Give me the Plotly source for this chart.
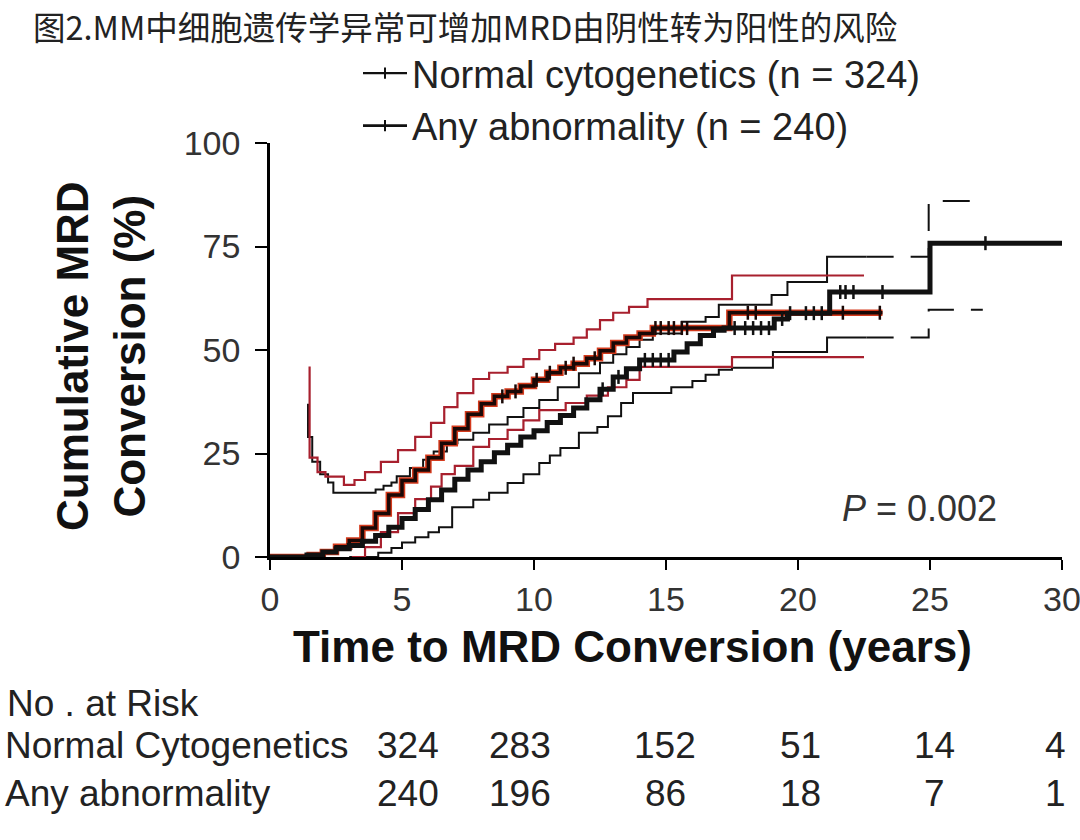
import numpy as np
import plotly.graph_objects as go

# ---------------- data ----------------
title_text = "图2.MM中细胞遗传学异常可增加MRD由阴性转为阳性的风险"
series_names = ["Normal cytogenetics (n = 324)", "Any abnormality (n = 240)"]

# Normal cytogenetics: cumulative incidence (%)
normal_t = [0, 1.4, 2.0, 2.5, 3.0, 3.5, 4.0, 4.5, 5.0, 5.5, 6.0, 6.5, 7.0, 7.5, 8.0, 8.5, 9.0, 9.5,
            10.0, 10.5, 11.0, 11.5, 12.0, 12.5, 13.0, 13.5, 14.0, 15.3, 15.8, 16.3, 16.8, 17.2,
            19.1, 19.6, 21.2, 25.0, 30.0]
normal_v = [0, 0.5, 1.2, 2.0, 2.8, 3.8, 5.2, 7.2, 9.3, 11.5, 13.8, 16.2, 18.8, 21.0, 23.0, 25.2, 27.0, 29.0,
            30.5, 32.5, 34.2, 36.0, 38.0, 40.5, 43.5, 45.5, 47.6, 49.5, 51.5, 53.5, 54.8, 55.3,
            57.5, 58.9, 64.0, 75.8, 75.8]
normal_ci_hi_t = [1.44, 1.44, 1.6, 1.9, 2.2, 2.4, 4.0, 4.3, 4.6, 4.8, 5.3, 5.8, 6.2, 6.7, 7.1, 7.7, 8.3,
                  9.0, 9.6, 10.2, 10.9, 11.7, 12.5, 13.0, 13.5, 14.0, 14.5, 15.6, 16.5, 17.0, 19.0,
                  19.6, 21.1, 22.6]
normal_ci_hi_v = [37, 29, 23, 20, 18, 15.5, 16.3, 17.2, 18.0, 19.5, 21.5, 23.5, 25.5, 27.5, 28.3, 30.0, 32.0,
                  33.8, 36.0, 37.9, 41.0, 44.4, 46.9, 49.0, 50.7, 52.5, 54.0, 56.8, 58.0, 60.9, 63.3,
                  66.4, 72.5, 72.5]
normal_ci_hi_dash_t = [22.6, 24.95, 27.0]
normal_ci_hi_dash_v = [72.5, 86.0, 86.0]
normal_ci_lo_t = [3.0, 4.1, 4.6, 5.0, 5.5, 6.0, 6.4, 6.9, 7.7, 8.3, 9.0, 9.6, 10.2, 10.6, 11.0, 11.7,
                  12.4, 12.8, 13.3, 13.75, 15.2, 16.0, 16.5, 17.0, 17.5, 19.05, 21.1, 22.6]
normal_ci_lo_v = [0, 1.0, 2.2, 3.5, 4.8, 6.0, 7.2, 12.0, 13.8, 15.5, 17.9, 20.0, 22.7, 24.5, 26.3, 30.0,
                  31.4, 34.0, 37.2, 39.6, 41.0, 42.5, 44.0, 45.2, 45.7, 49.5, 53.0, 53.0]
normal_ci_lo_dash_t = [22.6, 24.95, 27.0]
normal_ci_lo_dash_v = [53.0, 59.7, 59.7]
normal_censor = [12.6, 13.2, 14.2, 14.5, 14.8, 15.1, 17.6, 18.0, 18.3, 18.6, 18.9, 19.4, 19.7, 20.3,
                 20.6, 20.9, 21.6, 21.8, 22.1, 23.2, 27.1]

# Any abnormality: cumulative incidence (%)
any_t = [0, 1.5, 2.0, 2.5, 3.0, 3.5, 4.0, 4.5, 5.0, 5.5, 6.0, 6.5, 7.0, 7.5, 8.0, 8.5, 9.0, 9.5,
         10.0, 10.5, 11.0, 11.5, 12.0, 12.5, 13.0, 13.5, 14.0, 14.5, 17.4, 23.2]
any_v = [0, 0.5, 1.2, 2.5, 4.0, 7.0, 10.5, 15.0, 18.5, 21.0, 24.0, 27.5, 31.0, 34.5, 37.0, 38.8, 40.0, 41.3,
         42.8, 44.5, 45.7, 46.7, 48.0, 49.8, 51.7, 53.0, 54.0, 55.3, 59.0, 59.0]
any_ci_hi_t = [1.5, 1.5, 1.8, 2.1, 2.8, 3.2, 3.6, 4.2, 4.85, 5.5, 6.1, 6.6, 7.1, 7.7, 8.3, 9.0, 9.6,
               10.2, 10.8, 11.5, 12.0, 12.5, 13.0, 13.6, 14.3, 17.5, 22.5]
any_ci_hi_v = [46, 24, 20.5, 19.4, 17.4, 18.6, 20.5, 23.0, 25.8, 29.0, 32.4, 36.2, 39.6, 43.0, 44.5, 45.9, 47.8,
               50.0, 51.5, 53.0, 55.0, 57.2, 59.0, 60.4, 62.3, 68.0, 68.0]
any_ci_lo_t = [3.1, 3.6, 4.2, 4.85, 5.5, 6.1, 6.5, 7.0, 7.7, 8.3, 9.0, 9.6, 10.2, 11.2, 12.0, 12.8,
               13.5, 14.0, 17.5, 22.5]
any_ci_lo_v = [0, 2.4, 6.0, 10.6, 14.0, 17.0, 20.0, 22.0, 26.6, 28.5, 30.7, 33.0, 35.5, 37.2, 39.0, 41.0,
               42.8, 45.9, 48.3, 48.3]
any_censor = [8.8, 9.3, 10.1, 10.6, 11.2, 11.5, 12.3, 14.6, 14.8, 15.1, 15.3, 15.6, 15.8, 18.1, 18.4,
              21.7, 23.1]

x_ticks = [0, 5, 10, 15, 20, 25, 30]
y_ticks = [0, 25, 50, 75, 100]

risk_header = "No . at Risk"
risk_labels = ["Normal Cytogenetics", "Any abnormality"]
risk_normal = [324, 283, 152, 51, 14, 4]
risk_any = [240, 196, 86, 18, 7, 1]
p_text = "<i>P</i> = 0.002"

# ---------------- styles / layout ----------------
W, H = 1080, 840
L, R, T, B = 270, 18, 143, 283
PW, PH = W - L - R, H - T - B


def px_x(p):
    return (p - L) / PW


def px_y(p):
    return (H - B - p) / PH


FONT = "Liberation Sans, Arial, sans-serif"
CJK = "Noto Sans CJK SC, sans-serif"


def step_at(ts, vs, q):
    ts = np.asarray(ts)
    vs = np.asarray(vs)
    idx = np.searchsorted(ts, np.asarray(q), side="right") - 1
    return vs[np.clip(idx, 0, len(vs) - 1)]


fig = go.Figure()

BLACK = "#111111"
RED_CI = "#a8202e"
RED = "#d43a1c"

# Normal cytogenetics CIs (black)
for tt, vv, dash in [(normal_ci_hi_t, normal_ci_hi_v, "solid"), (normal_ci_lo_t, normal_ci_lo_v, "solid"),
                     (normal_ci_hi_dash_t, normal_ci_hi_dash_v, "27px,17px"),
                     (normal_ci_lo_dash_t, normal_ci_lo_dash_v, "27px,17px")]:
    fig.add_trace(go.Scatter(x=tt, y=vv, mode="lines", line=dict(color=BLACK, width=2, shape="hv", dash=dash),
                             showlegend=False, hoverinfo="skip"))

# Any abnormality CIs (red)
for tt, vv in [(any_ci_hi_t, any_ci_hi_v), (any_ci_lo_t, any_ci_lo_v)]:
    fig.add_trace(go.Scatter(x=tt, y=vv, mode="lines", line=dict(color=RED_CI, width=2.2, shape="hv"),
                             showlegend=False, hoverinfo="skip"))

# Any abnormality main curve: red under, dark core on top
fig.add_trace(go.Scatter(x=any_t, y=any_v, mode="lines", line=dict(color=RED, width=6.5, shape="hv"),
                         showlegend=False, hoverinfo="skip"))
fig.add_trace(go.Scatter(x=any_t, y=any_v, mode="lines", line=dict(color="#1a0806", width=3.5, shape="hv"),
                         showlegend=False, hoverinfo="skip"))
# Normal main curve
fig.add_trace(go.Scatter(x=normal_t, y=normal_v, mode="lines", line=dict(color=BLACK, width=5, shape="hv"),
                         showlegend=False, hoverinfo="skip"))

# censor ticks
fig.add_trace(go.Scatter(x=any_censor, y=step_at(any_t, any_v, any_censor), mode="markers",
                         marker=dict(symbol="line-ns", size=10, line=dict(color="#1a0806", width=2.5)),
                         showlegend=False, hoverinfo="skip"))
fig.add_trace(go.Scatter(x=normal_censor, y=step_at(normal_t, normal_v, normal_censor), mode="markers",
                         marker=dict(symbol="line-ns", size=10, line=dict(color=BLACK, width=2.5)),
                         showlegend=False, hoverinfo="skip"))

# legend entries
fig.add_trace(go.Scatter(x=[None], y=[None], mode="lines+markers", name=series_names[0],
                         line=dict(color=BLACK, width=2.2),
                         marker=dict(symbol="line-ns", size=8, line=dict(color=BLACK, width=2))))
fig.add_trace(go.Scatter(x=[None], y=[None], mode="lines+markers", name=series_names[1],
                         line=dict(color=BLACK, width=2.8),
                         marker=dict(symbol="line-ns", size=8, line=dict(color=BLACK, width=2))))

axis_common = dict(showline=True, linecolor="black", linewidth=2.5, ticks="outside", tickwidth=2,
                   tickcolor="black", showgrid=False, zeroline=False, ticklabeloverflow="allow",
                   tickfont=dict(family=FONT, size=34, color="#333333"))

fig.update_layout(
    width=W, height=H,
    margin=dict(l=L, r=R, t=T, b=B, autoexpand=False),
    paper_bgcolor="white", plot_bgcolor="white",
    xaxis=dict(range=[0, 30], tickvals=x_ticks, ticklen=10, **axis_common),
    yaxis=dict(range=[0, 100], tickvals=y_ticks, ticklen=12, ticklabelstandoff=8, **axis_common),
    legend=dict(x=px_x(358), y=px_y(42), xanchor="left", yanchor="top", bgcolor="rgba(0,0,0,0)",
                font=dict(family=FONT, size=38, color="#222222"), itemwidth=44, tracegroupgap=0),
    showlegend=True,
)

ann = []
ann.append(dict(text=title_text, x=px_x(31), y=px_y(0), xref="paper", yref="paper", xanchor="left",
                yanchor="top", showarrow=False, font=dict(family=CJK, size=32.5, color="#222222")))
ann.append(dict(text="<b>Cumulative MRD<br>Conversion (%)</b>", x=px_x(101), y=px_y(356), xref="paper",
                yref="paper", xanchor="center", yanchor="middle", textangle=-90, showarrow=False,
                font=dict(family=FONT, size=44, color="#111111")))
ann.append(dict(text="<b>Time to MRD Conversion (years)</b>", x=px_x(632), y=px_y(646), xref="paper",
                yref="paper", xanchor="center", yanchor="middle", showarrow=False,
                font=dict(family=FONT, size=44, color="#111111")))
ann.append(dict(text=p_text, x=px_x(840), y=px_y(508), xref="paper", yref="paper", xanchor="left",
                yanchor="middle", showarrow=False, font=dict(family=FONT, size=36, color="#333333")))
ann.append(dict(text=risk_header, x=px_x(5), y=px_y(703), xref="paper", yref="paper", xanchor="left",
                yanchor="middle", showarrow=False, font=dict(family=FONT, size=37, color="#222222")))
row_y = [745, 793]
col_x = [408, 520, 665, 800, 934, 1055]
for lab, vals, ry in zip(risk_labels, [risk_normal, risk_any], row_y):
    ann.append(dict(text=lab, x=px_x(3), y=px_y(ry), xref="paper", yref="paper", xanchor="left",
                    yanchor="middle", showarrow=False, font=dict(family=FONT, size=37, color="#222222")))
    for v, cx in zip(vals, col_x):
        ann.append(dict(text=str(v), x=px_x(cx), y=px_y(ry), xref="paper", yref="paper", xanchor="center",
                        yanchor="middle", showarrow=False, font=dict(family=FONT, size=37, color="#222222")))
fig.update_layout(annotations=ann)

fig.write_html("out.html", config={"displayModeBar": False},
               post_script="document.body.style.margin='0px';document.body.style.overflow='hidden';")
